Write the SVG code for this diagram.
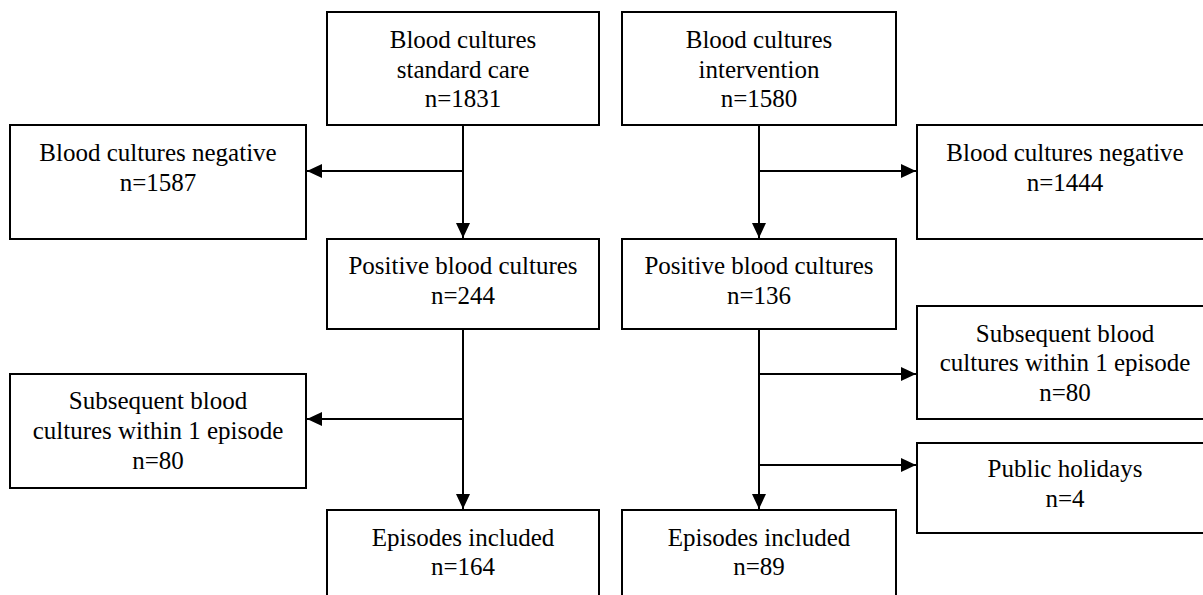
<svg xmlns="http://www.w3.org/2000/svg" width="1203" height="595" viewBox="0 0 1203 595">
<style>
.box{fill:#fff;stroke:#000;stroke-width:2}
.t{font-family:'Liberation Serif','DejaVu Serif',serif;font-size:25px;fill:#000;text-anchor:middle}
.c{fill:none;stroke:#000;stroke-width:2}
</style>
<defs>
<marker id="ah" markerUnits="userSpaceOnUse" markerWidth="16" markerHeight="16" refX="15" refY="7" orient="auto">
<path d="M0,0 L15,7 L0,14 z" fill="#000"/>
</marker>
</defs>
<rect width="1203" height="595" fill="#fff"/>
<g id="connectors">
<path class="c" d="M463,125 V238" marker-end="url(#ah)"/>
<path class="c" d="M463,171 H307" marker-end="url(#ah)"/>
<path class="c" d="M463,329 V509" marker-end="url(#ah)"/>
<path class="c" d="M463,419 H307" marker-end="url(#ah)"/>
<path class="c" d="M759,125 V238" marker-end="url(#ah)"/>
<path class="c" d="M759,171 H916" marker-end="url(#ah)"/>
<path class="c" d="M759,329 V509" marker-end="url(#ah)"/>
<path class="c" d="M759,374 H916" marker-end="url(#ah)"/>
<path class="c" d="M759,465 H916" marker-end="url(#ah)"/>
</g>
<g id="std">
<rect class="box" x="327" y="12" width="272" height="113"/>
<text class="t" x="463" y="48">Blood cultures</text>
<text class="t" x="463" y="78">standard care</text>
<text class="t" x="463" y="107">n=1831</text>
</g>
<g id="int">
<rect class="box" x="622" y="12" width="274" height="113"/>
<text class="t" x="759" y="48">Blood cultures</text>
<text class="t" x="759" y="78">intervention</text>
<text class="t" x="759" y="107">n=1580</text>
</g>
<g id="negL">
<rect class="box" x="10" y="125" width="296" height="114"/>
<text class="t" x="158" y="161">Blood cultures negative</text>
<text class="t" x="158" y="191">n=1587</text>
</g>
<g id="negR">
<rect class="box" x="917" y="125" width="296" height="114"/>
<text class="t" x="1065" y="161">Blood cultures negative</text>
<text class="t" x="1065" y="191">n=1444</text>
</g>
<g id="posL">
<rect class="box" x="327" y="239" width="272" height="90"/>
<text class="t" x="463" y="274">Positive blood cultures</text>
<text class="t" x="463" y="304">n=244</text>
</g>
<g id="posR">
<rect class="box" x="622" y="239" width="274" height="90"/>
<text class="t" x="759" y="274">Positive blood cultures</text>
<text class="t" x="759" y="304">n=136</text>
</g>
<g id="subL">
<rect class="box" x="10" y="374" width="296" height="114"/>
<text class="t" x="158" y="409">Subsequent blood</text>
<text class="t" x="158" y="439">cultures within 1 episode</text>
<text class="t" x="158" y="469">n=80</text>
</g>
<g id="subR">
<rect class="box" x="917" y="306" width="296" height="113"/>
<text class="t" x="1065" y="342">Subsequent blood</text>
<text class="t" x="1065" y="371">cultures within 1 episode</text>
<text class="t" x="1065" y="401">n=80</text>
</g>
<g id="hol">
<rect class="box" x="917" y="443" width="296" height="90"/>
<text class="t" x="1065" y="477">Public holidays</text>
<text class="t" x="1065" y="507">n=4</text>
</g>
<g id="epiL">
<rect class="box" x="327" y="510" width="272" height="100"/>
<text class="t" x="463" y="546">Episodes included</text>
<text class="t" x="463" y="575">n=164</text>
</g>
<g id="epiR">
<rect class="box" x="622" y="510" width="274" height="100"/>
<text class="t" x="759" y="546">Episodes included</text>
<text class="t" x="759" y="575">n=89</text>
</g>
</svg>
